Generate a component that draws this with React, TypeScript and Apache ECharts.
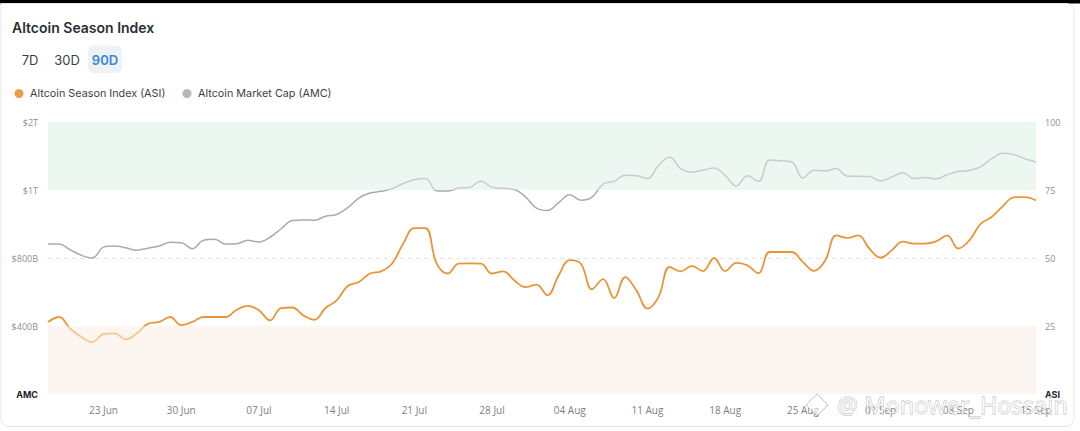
import React, { useEffect, useRef } from "react";
import * as echarts from "echarts";

// Altcoin Season Index (ASI), daily, 18 Jun -> 15 Sep
const ASI = [
  26.5, 28.3, 24, 21, 19.1, 22, 22.3, 20.1, 22.3, 25.8,
  26.5, 28.3, 25.3, 26.5, 28.3, 28.3, 28.3, 31, 32.4, 30.8,
  27.1, 31.6, 31.8, 28.9, 27.3, 31.6, 34.4, 39.7, 41.2, 44.3,
  45.1, 48, 55.3, 61, 61, 48, 44.3, 47.9, 48, 47.9,
  44.3, 45.1, 41.8, 39.3, 40.2, 36.3, 43.6, 49.2, 47.9, 38.5,
  42.2, 35.3, 43, 38.1, 31.4, 35.7, 46.7, 45.1, 47.1, 45.2,
  50, 45.2, 48.2, 47.3, 44.4, 52.2, 52.2, 52.2, 48.5, 45.3,
  49, 58.3, 57.4, 58.3, 53.4, 50.1, 52.8, 56, 55.3, 55.3,
  56.1, 58.3, 53.5, 56.5, 62.5, 65.1, 69, 72.3, 72.4, 71.2,
];

// Altcoin Market Cap (AMC), in billions of USD
const AMC = [
  841, 841, 824, 808, 800, 832, 835, 830, 823, 829,
  835, 846, 845, 827, 852, 855, 841, 842, 852, 847,
  861, 886, 910, 912, 911, 923, 928, 948, 976, 991,
  996, 1020, 1096, 1152, 1168, 998, 997, 1028, 1040, 1132,
  1040, 1024, 1008, 980, 947, 940, 963, 986, 970, 979,
  1088, 1128, 1216, 1208, 1168, 1364, 1480, 1316, 1264, 1292,
  1324, 1216, 1060, 1208, 1128, 1440, 1428, 1412, 1176, 1292,
  1280, 1316, 1204, 1204, 1200, 1132, 1192, 1252, 1168, 1184,
  1164, 1224, 1272, 1288, 1340, 1460, 1540, 1520, 1460, 1412,
];

// Left axis (AMC) tick values (billions) and labels, bottom to top
const AMC_TICK_VALUES = [0, 400, 800, 1000, 2000];
const AMC_TICK_LABELS = ["AMC", "$400B", "$800B", "$1T", "$2T"];
// Right axis (ASI) tick labels, bottom to top
const ASI_TICK_LABELS = ["ASI", "25", "50", "75", "100"];

const MONTHS = ["Jun", "Jul", "Aug", "Sep"];
const MONTH_DAYS = [30, 31, 31, 30];
const START_DAY = 18;
const DAY_COUNT = 90;

function buildDates(): string[] {
  const out: string[] = [];
  let m = 0;
  let d = START_DAY;
  for (let i = 0; i < DAY_COUNT; i++) {
    out.push((d < 10 ? "0" + d : "" + d) + " " + MONTHS[m]);
    d++;
    if (d > MONTH_DAYS[m]) {
      d = 1;
      m++;
    }
  }
  return out;
}

// AMC axis is piecewise: each labelled tick occupies one quarter of the height
function amcToAxis(b: number): number {
  for (let i = 0; i < AMC_TICK_VALUES.length - 1; i++) {
    const lo = AMC_TICK_VALUES[i];
    const hi = AMC_TICK_VALUES[i + 1];
    if (b <= hi || i === AMC_TICK_VALUES.length - 2) {
      return 25 * i + (25 * (b - lo)) / (hi - lo);
    }
  }
  return 100;
}

const UI_FONT = "Inter, 'Noto Sans', sans-serif";
const AXIS_FONT = "'Open Sans', 'Noto Sans', sans-serif";

export default function App() {
  const ref = useRef<HTMLDivElement>(null);

  useEffect(() => {
    if (!ref.current) return;
    const chart = echarts.init(ref.current, undefined, { renderer: "svg" });
    const dates = buildDates();
    const clear = "rgba(0,0,0,0)";

    chart.setOption({
      animation: false,
      backgroundColor: "#ffffff",
      grid: { left: 48, right: 44, top: 122, bottom: 37, containLabel: false },
      xAxis: {
        type: "category",
        data: dates,
        boundaryGap: false,
        axisLine: { show: false },
        axisTick: { show: false },
        splitLine: { show: false },
        axisLabel: {
          interval: (idx: number) => idx >= 5 && (idx - 5) % 7 === 0,
          color: "#7b8089",
          fontSize: 10,
          fontFamily: AXIS_FONT,
          margin: 11,
        },
      },
      yAxis: [
        {
          type: "value",
          position: "left",
          min: 0,
          max: 100,
          interval: 25,
          axisLine: { show: false },
          axisTick: { show: false },
          axisLabel: {
            margin: 10,
            color: "#8a8f98",
            fontSize: 9,
            fontFamily: AXIS_FONT,
            formatter: (v: number) => {
              const i = Math.round(v / 25);
              return i === 0 ? "{b|" + AMC_TICK_LABELS[0] + "}" : AMC_TICK_LABELS[i];
            },
            rich: {
              b: { fontWeight: "bold", color: "#1f2329", fontSize: 9, fontFamily: UI_FONT },
            },
          },
          splitLine: {
            show: true,
            lineStyle: { color: [clear, clear, "#dfe2e6", clear, clear], type: [4, 4], width: 1 },
          },
        },
        {
          type: "value",
          position: "right",
          min: 0,
          max: 100,
          interval: 25,
          axisLine: { show: false },
          axisTick: { show: false },
          splitLine: { show: false },
          axisLabel: {
            margin: 9,
            color: "#8a8f98",
            fontSize: 9,
            fontFamily: AXIS_FONT,
            formatter: (v: number) => {
              const i = Math.round(v / 25);
              return i === 0 ? "{b|" + ASI_TICK_LABELS[0] + "}" : ASI_TICK_LABELS[i];
            },
            rich: {
              b: { fontWeight: "bold", color: "#1f2329", fontSize: 9, fontFamily: UI_FONT },
            },
          },
        },
      ],
      visualMap: [
        {
          type: "piecewise",
          show: false,
          seriesIndex: 0,
          dimension: 1,
          pieces: [
            { gte: 0, lt: 25, color: "#f6c690" },
            { gte: 25, lte: 100, color: "#e8953a" },
          ],
          outOfRange: { color: "#e8953a" },
        },
        {
          type: "piecewise",
          show: false,
          seriesIndex: 1,
          dimension: 1,
          pieces: [
            { gte: 0, lte: 75, color: "#a6abb3" },
            { gt: 75, lte: 100, color: "#c8cbcf" },
          ],
          outOfRange: { color: "#a6abb3" },
        },
      ],
      series: [
        {
          name: "Altcoin Season Index (ASI)",
          type: "line",
          yAxisIndex: 1,
          data: ASI,
          smooth: 0.4,
          showSymbol: false,
          symbol: "none",
          lineStyle: { width: 1.8 },
          z: 4,
          markArea: {
            silent: true,
            data: [
              [{ yAxis: 75, itemStyle: { color: "#edf7f1" } }, { yAxis: 100 }],
              [{ yAxis: 0, itemStyle: { color: "#fdf6f0" } }, { yAxis: 25 }],
            ],
          },
        },
        {
          name: "Altcoin Market Cap (AMC)",
          type: "line",
          yAxisIndex: 0,
          data: AMC.map(amcToAxis),
          smooth: 0.4,
          showSymbol: false,
          symbol: "none",
          lineStyle: { width: 1.5 },
          z: 3,
        },
      ],
      graphic: [
        {
          type: "rect",
          z: -10,
          silent: true,
          shape: { x: 0, y: 0, width: 1080, height: 3.5 },
          style: { fill: "#000000" },
        },
        {
          type: "rect",
          z: -9,
          silent: true,
          shape: { x: 1, y: 3.5, width: 1073, height: 423, r: [0, 8, 8, 8] },
          style: { fill: "#ffffff", stroke: "#e4e6e9", lineWidth: 1 },
        },
        {
          type: "text",
          x: 12,
          y: 27,
          style: {
            text: "Altcoin Season Index",
            fontSize: 14,
            fontWeight: 600,
            fontFamily: UI_FONT,
            fill: "#2b2f36",
            textVerticalAlign: "middle",
          },
        },
        {
          type: "rect",
          shape: { x: 88, y: 45.5, width: 34, height: 27.5, r: 6 },
          style: { fill: "#edf2f4" },
        },
        {
          type: "text",
          x: 30,
          y: 60,
          style: {
            text: "7D",
            fontSize: 13,
            fontFamily: UI_FONT,
            fill: "#3a3f47",
            textAlign: "center",
            textVerticalAlign: "middle",
          },
        },
        {
          type: "text",
          x: 67,
          y: 60,
          style: {
            text: "30D",
            fontSize: 13,
            fontFamily: UI_FONT,
            fill: "#3a3f47",
            textAlign: "center",
            textVerticalAlign: "middle",
          },
        },
        {
          type: "text",
          x: 105,
          y: 60,
          style: {
            text: "90D",
            fontSize: 13,
            fontWeight: 600,
            fontFamily: UI_FONT,
            fill: "#3a86dc",
            textAlign: "center",
            textVerticalAlign: "middle",
          },
        },
        {
          type: "circle",
          shape: { cx: 19, cy: 93.5, r: 4.5 },
          style: { fill: "#e89f48" },
        },
        {
          type: "text",
          x: 30,
          y: 93.5,
          style: {
            text: "Altcoin Season Index (ASI)",
            fontSize: 10.8,
            fontFamily: UI_FONT,
            fill: "#3a3f47",
            textVerticalAlign: "middle",
          },
        },
        {
          type: "circle",
          shape: { cx: 187, cy: 93.5, r: 4.5 },
          style: { fill: "#b4b7bc" },
        },
        {
          type: "text",
          x: 198,
          y: 93.5,
          style: {
            text: "Altcoin Market Cap (AMC)",
            fontSize: 10.8,
            fontFamily: UI_FONT,
            fill: "#3a3f47",
            textVerticalAlign: "middle",
          },
        },
        {
          type: "polygon",
          z: 100,
          silent: true,
          shape: { points: [[817, 394], [828, 405], [817, 416], [806, 405]] },
          style: { fill: "rgba(255,255,255,0.6)", stroke: "rgba(120,120,120,0.45)", lineWidth: 1 },
        },
        {
          type: "text",
          z: 100,
          silent: true,
          x: 837,
          y: 405,
          style: {
            text: "@ Monower_Hossain",
            fontSize: 23.5,
            fontFamily: "'Noto Sans', sans-serif",
            fill: "rgba(255,255,255,0.7)",
            stroke: "rgba(110,110,110,0.5)",
            lineWidth: 0.8,
            textVerticalAlign: "middle",
          },
        },
      ],
    });

    return () => {
      chart.dispose();
    };
  }, []);

  return (
    <div
      ref={ref}
      style={{ position: "fixed", left: 0, top: 0, width: 1080, height: 431 }}
    />
  );
}
